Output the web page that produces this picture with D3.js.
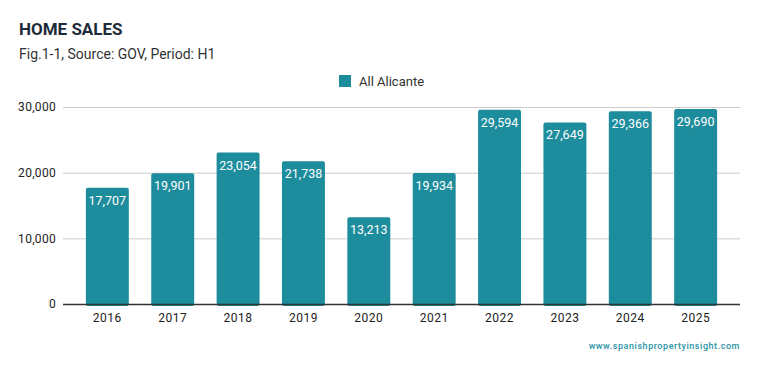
<!DOCTYPE html>
<html>
<head>
<meta charset="utf-8">
<script src="https://cdn.jsdelivr.net/npm/d3@7"></script>
<style>
  body { margin: 0; background: #fff; }
  text { font-family: Roboto, "Noto Sans", sans-serif; }
</style>
</head>
<body>
<div id="chart"></div>
<script>
// chart data
var years = ["2016", "2017", "2018", "2019", "2020", "2021", "2022", "2023", "2024", "2025"];
var sales = [17707, 19901, 23054, 21738, 13213, 19934, 29594, 27649, 29366, 29690];
var yTicks = [0, 10000, 20000, 30000];
var seriesName = "All Alicante";

var width = 759,
    height = 371,
    margin = { top: 107, right: 19, bottom: 67, left: 63 };

var barColor = "#1d8c9c";

var svg = d3.select("#chart").append("svg")
    .attr("width", width)
    .attr("height", height);

// title and subtitle
svg.append("text")
    .attr("x", 19).attr("y", 35)
    .style("font-size", "17px")
    .style("font-weight", "bold")
    .style("fill", "#1c2b3a")
    .text("HOME SALES");

svg.append("text")
    .attr("x", 19).attr("y", 59)
    .style("font-size", "14px")
    .style("fill", "#333")
    .text("Fig.1-1, Source: GOV, Period: H1");

// legend
svg.append("rect")
    .attr("x", 339).attr("y", 75)
    .attr("width", 12).attr("height", 12)
    .style("fill", barColor);

svg.append("text")
    .attr("x", 359).attr("y", 85.5)
    .style("font-size", "13px")
    .style("fill", "#333")
    .text(seriesName);

var x = d3.scaleBand()
    .domain(years)
    .range([margin.left, width - margin.right])
    .paddingInner(0.343)
    .paddingOuter(0.35);

var y = d3.scaleLinear()
    .domain([0, 30000])
    .range([height - margin.bottom, margin.top]);

// gridlines
svg.append("g")
    .selectAll("line")
    .data(yTicks.slice(1))
    .enter()
    .append("line")
    .attr("x1", margin.left)
    .attr("x2", width - margin.right)
    .attr("y1", d => y(d) + 0.5)
    .attr("y2", d => y(d) + 0.5)
    .style("stroke", "#cccccc")
    .style("stroke-width", 1);

// y axis labels
var yAxis = d3.axisLeft(y)
    .tickValues(yTicks)
    .tickFormat(d3.format(","))
    .tickSize(0)
    .tickPadding(7);

svg.append("g")
    .attr("transform", "translate(" + margin.left + ",0)")
    .call(yAxis)
    .call(g => g.select(".domain").remove())
    .selectAll("text")
    .style("font-size", "12px")
    .style("font-family", "Roboto, sans-serif")
    .style("letter-spacing", "0.3px")
    .style("fill", "#222");

// bars
svg.append("g")
    .selectAll("rect")
    .data(sales)
    .enter()
    .append("rect")
    .attr("x", (d, i) => x(years[i]))
    .attr("y", d => y(d))
    .attr("width", x.bandwidth())
    .attr("height", d => y(0) - y(d) + 2)
    .attr("rx", 2)
    .style("fill", barColor);

// value labels inside bars
svg.append("g")
    .selectAll("text")
    .data(sales)
    .enter()
    .append("text")
    .attr("x", (d, i) => x(years[i]) + x.bandwidth() / 2)
    .attr("y", d => y(d) + 17)
    .attr("text-anchor", "middle")
    .style("font-size", "12.5px")
    .style("fill", "#fff")
    .text(d => d3.format(",")(d));

// x axis
var xAxis = d3.axisBottom(x).tickSize(0).tickPadding(9);

svg.append("g")
    .attr("transform", "translate(0," + y(0) + ")")
    .call(xAxis)
    .call(g => g.select(".domain")
        .attr("d", "M" + margin.left + ",0.5H" + (width - margin.right))
        .style("stroke", "#333")
        .style("stroke-width", 1.3))
    .selectAll("text")
    .style("font-size", "12px")
    .style("font-family", "Roboto, sans-serif")
    .style("letter-spacing", "0.5px")
    .style("fill", "#222");

// watermark
svg.append("text")
    .attr("x", width - margin.right)
    .attr("y", 349)
    .attr("text-anchor", "end")
    .style("font-size", "9px")
    .style("font-weight", "500")
    .style("letter-spacing", "0.55px")
    .style("fill", "#2a93a3")
    .text("www.spanishpropertyinsight.com");
</script>
</body>
</html>
